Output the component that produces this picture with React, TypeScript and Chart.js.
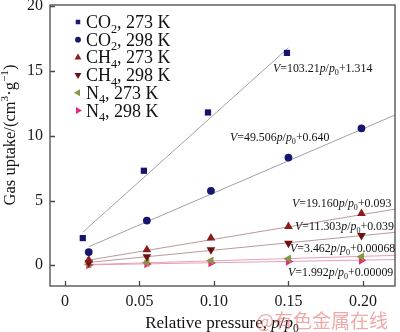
import React, { useEffect, useRef } from "react";
import { Chart, registerables } from "chart.js";

Chart.register(...registerables);

// ---- data ----
const xCO2_273 = [0.012, 0.053, 0.096, 0.149];
const yCO2_273 = [2.1, 7.3, 11.8, 16.4];
const xOthers = [0.016, 0.055, 0.098, 0.15, 0.199];
const yCO2_298 = [1.02, 3.45, 5.75, 8.32, 10.58];
const yCH4_273 = [0.4, 1.2, 2.1, 3.0, 4.0];
const yCH4_298 = [0.2, 0.65, 1.2, 1.7, 2.3];
const yN2_273 = [0.08, 0.2, 0.35, 0.5, 0.65];
const yN2_298 = [0.02, 0.1, 0.18, 0.3, 0.38];

const seriesLabels = ["CO|2|, 273 K", "CO|2|, 298 K", "CH|4|, 273 K", "CH|4|, 298 K", "N|4|, 273 K", "N|4|, 298 K"];
const fitSlopes = [103.21, 49.506, 19.16, 11.303, 3.462, 1.992];
const fitIntercepts = [1.314, 0.64, 0.093, 0.039, 0.00068, 0.00009];
const fitSlopeText = ["103.21", "49.506", "19.160", "11.303", "3.462", "1.992"];
const fitInterceptText = ["1.314", "0.640", "0.093", "0.039", "0.00068", "0.00009"];
const fitStart = [0.012, 0.016, 0.016, 0.016, 0.016, 0.016];
const fitEnd = [0.15, 0.2215, 0.2215, 0.2215, 0.2215, 0.2215];

const xTicks = [0, 0.05, 0.1, 0.15, 0.2];
const yTicks = [0, 5, 10, 15, 20];

// ---- styles ----
const pointColors = ["#16166e", "#16166e", "#8c1c1c", "#6e1010", "#8a9444", "#e8287e"];
const pointStyles = ["rect", "circle", "triangle", "triangle", "triangle", "triangle"];
const pointRotations = [0, 0, 0, 180, -90, 90];
const pointRadii = [4.4, 3.9, 5, 5, 5, 5];
const lineColors = ["#a0a0b0", "#a0a0b0", "#b89a9a", "#b89a9a", "#e6a0b4", "#e6a0b4"];
const eqPos = [
  [273, 72],
  [230, 141],
  [292, 207],
  [295, 230],
  [290, 252],
  [288, 276],
];

const SERIF = '"Liberation Serif", "Times New Roman", serif';

type Part = { t: string; it?: boolean; sub?: boolean; sup?: boolean };

function drawRich(ctx: CanvasRenderingContext2D, x: number, y: number, parts: Part[], size: number, align = "left") {
  const pcs = parts.map((p) => {
    const fs = p.sub || p.sup ? size * 0.68 : size;
    const font = `${p.it ? "italic " : ""}${fs}px ${SERIF}`;
    ctx.font = font;
    return { ...p, font, w: ctx.measureText(p.t).width };
  });
  const total = pcs.reduce((a, p) => a + p.w, 0);
  let cx = align === "center" ? x - total / 2 : align === "right" ? x - total : x;
  ctx.textBaseline = "alphabetic";
  ctx.textAlign = "left";
  for (const p of pcs) {
    ctx.font = p.font;
    const dy = p.sub ? size * 0.25 : p.sup ? -size * 0.4 : 0;
    ctx.fillText(p.t, cx, y + dy);
    cx += p.w;
  }
}

function drawMarker(ctx: CanvasRenderingContext2D, style: string, rot: number, x: number, y: number, r: number, color: string) {
  ctx.save();
  ctx.fillStyle = color;
  ctx.translate(x, y);
  ctx.rotate((rot * Math.PI) / 180);
  ctx.beginPath();
  if (style === "rect") {
    const s = r * Math.SQRT2;
    ctx.rect(-s / 2, -s / 2, s, s);
  } else if (style === "circle") {
    ctx.arc(0, 0, r, 0, Math.PI * 2);
  } else {
    ctx.moveTo(0, -r);
    ctx.lineTo(r * Math.sin(Math.PI / 3), r * 0.5);
    ctx.lineTo(-r * Math.sin(Math.PI / 3), r * 0.5);
    ctx.closePath();
  }
  ctx.fill();
  ctx.restore();
}

const overlay = {
  id: "overlay",
  afterDraw(chart: any) {
    const ctx: CanvasRenderingContext2D = chart.ctx;
    const a = chart.chartArea;
    const xs = chart.scales.x;
    const ys = chart.scales.y;
    ctx.save();
    // frame
    ctx.strokeStyle = "#4a4a4a";
    ctx.lineWidth = 1.3;
    ctx.strokeRect(a.left, a.top, a.right - a.left, a.bottom - a.top);
    // inward ticks
    ctx.beginPath();
    for (const v of xTicks) {
      const px = Math.round(xs.getPixelForValue(v)) + 0.5;
      ctx.moveTo(px, a.bottom);
      ctx.lineTo(px, a.bottom - 5);
    }
    for (const v of yTicks) {
      const py = Math.round(ys.getPixelForValue(v)) + 0.5;
      ctx.moveTo(a.left, py);
      ctx.lineTo(a.left + 5, py);
    }
    ctx.stroke();

    // legend
    ctx.fillStyle = "#111";
    seriesLabels.forEach((lab, i) => {
      const cy = 22 + i * 17.7;
      const mr = pointStyles[i] === "rect" ? 3.2 : pointStyles[i] === "circle" ? 2.9 : 4;
      drawMarker(ctx, pointStyles[i], pointRotations[i], 78, cy, mr, pointColors[i]);
      const [a1, s1, a2] = lab.split("|");
      ctx.fillStyle = "#111";
      drawRich(ctx, 86, cy + 6, [{ t: a1 }, { t: s1, sub: true }, { t: a2 }], 18);
    });

    // equations
    ctx.fillStyle = "#111";
    fitSlopeText.forEach((s, i) => {
      const [ex, ey] = eqPos[i];
      drawRich(
        ctx,
        ex,
        ey,
        [
          { t: "V", it: true },
          { t: "=" + s },
          { t: "p", it: true },
          { t: "/" },
          { t: "p", it: true },
          { t: "0", sub: true },
          { t: "+" + fitInterceptText[i] },
        ],
        11.9
      );
    });

    // axis titles
    ctx.fillStyle = "#111";
    drawRich(
      ctx,
      222,
      328,
      [{ t: "Relative pressure, " }, { t: "p", it: true }, { t: "/" }, { t: "p", it: true }, { t: "0", sub: true }],
      17,
      "center"
    );
    ctx.save();
    ctx.translate(9, 135);
    ctx.rotate(-Math.PI / 2);
    drawRich(
      ctx,
      0,
      6,
      [{ t: "Gas uptake/(cm" }, { t: "3", sup: true }, { t: "·g" }, { t: "−1", sup: true }, { t: ")" }],
      16.5,
      "center"
    );
    ctx.restore();

    // watermark
    ctx.font = '19px "Noto Sans CJK SC"';
    ctx.fillStyle = "rgba(228,110,110,0.6)";
    ctx.textAlign = "left";
    ctx.textBaseline = "middle";
    ctx.fillText("@有色金属在线", 256, 321);
    ctx.restore();
  },
};

export default function App() {
  const ref = useRef<HTMLCanvasElement | null>(null);
  useEffect(() => {
    document.body.style.margin = "0";
    if (!ref.current) return;
    const pointSets = [
      xCO2_273.map((x, i) => ({ x, y: yCO2_273[i] })),
      xOthers.map((x, i) => ({ x, y: yCO2_298[i] })),
      xOthers.map((x, i) => ({ x, y: yCH4_273[i] })),
      xOthers.map((x, i) => ({ x, y: yCH4_298[i] })),
      xOthers.map((x, i) => ({ x, y: yN2_273[i] })),
      xOthers.map((x, i) => ({ x, y: yN2_298[i] })),
    ];
    const lineSets = fitSlopes.map((m, i) => ({
      type: "scatter" as const,
      data: [
        { x: fitStart[i], y: m * fitStart[i] + fitIntercepts[i] },
        { x: fitEnd[i], y: m * fitEnd[i] + fitIntercepts[i] },
      ],
      showLine: true,
      borderColor: lineColors[i],
      borderWidth: 1,
      pointRadius: 0,
      order: 10,
      clip: 0,
    }));
    const pts = pointSets.map((d, i) => ({
      type: "scatter" as const,
      label: seriesLabels[i],
      data: d,
      pointStyle: pointStyles[i],
      rotation: pointRotations[i],
      pointRadius: pointRadii[i],
      backgroundColor: pointColors[i],
      borderColor: pointColors[i],
      borderWidth: 0,
      order: 1,
    }));
    const chart = new Chart(ref.current, {
      type: "scatter",
      data: { datasets: [...lineSets, ...pts] as any },
      options: {
        animation: false,
        responsive: false,
        layout: { padding: { top: 4, right: 5, left: 0, bottom: 0 } },
        plugins: { legend: { display: false }, tooltip: { enabled: false } },
        scales: {
          x: {
            type: "linear",
            min: -0.01,
            max: 0.2215,
            afterBuildTicks: (s: any) => {
              s.ticks = xTicks.map((v) => ({ value: v }));
            },
            afterFit: (s: any) => {
              s.height = 46;
              s.paddingLeft = 0;
              s.paddingRight = 0;
            },
            ticks: {
              callback: (v: any) => (v === 0 ? "0" : Number(v).toFixed(2)),
              font: { family: SERIF, size: 16 },
              color: "#1a1a1a",
              padding: 6,
              maxRotation: 0,
              autoSkip: false,
            },
            grid: { display: false, drawTicks: false },
            border: { display: false },
          },
          y: {
            type: "linear",
            min: -1.6,
            max: 20.1,
            afterBuildTicks: (s: any) => {
              s.ticks = yTicks.map((v) => ({ value: v }));
            },
            afterFit: (s: any) => {
              s.width = 50;
              s.paddingTop = 0;
              s.paddingBottom = 0;
            },
            ticks: {
              callback: (v: any) => String(v),
              font: { family: SERIF, size: 16 },
              color: "#1a1a1a",
              padding: 7,
              autoSkip: false,
            },
            grid: { display: false, drawTicks: false },
            border: { display: false },
          },
        },
      },
      plugins: [overlay],
    });
    return () => chart.destroy();
  }, []);
  return (
    <div style={{ width: 400, height: 332 }}>
      <canvas ref={ref} width={400} height={332} style={{ display: "block", width: 400, height: 332 }} />
    </div>
  );
}
